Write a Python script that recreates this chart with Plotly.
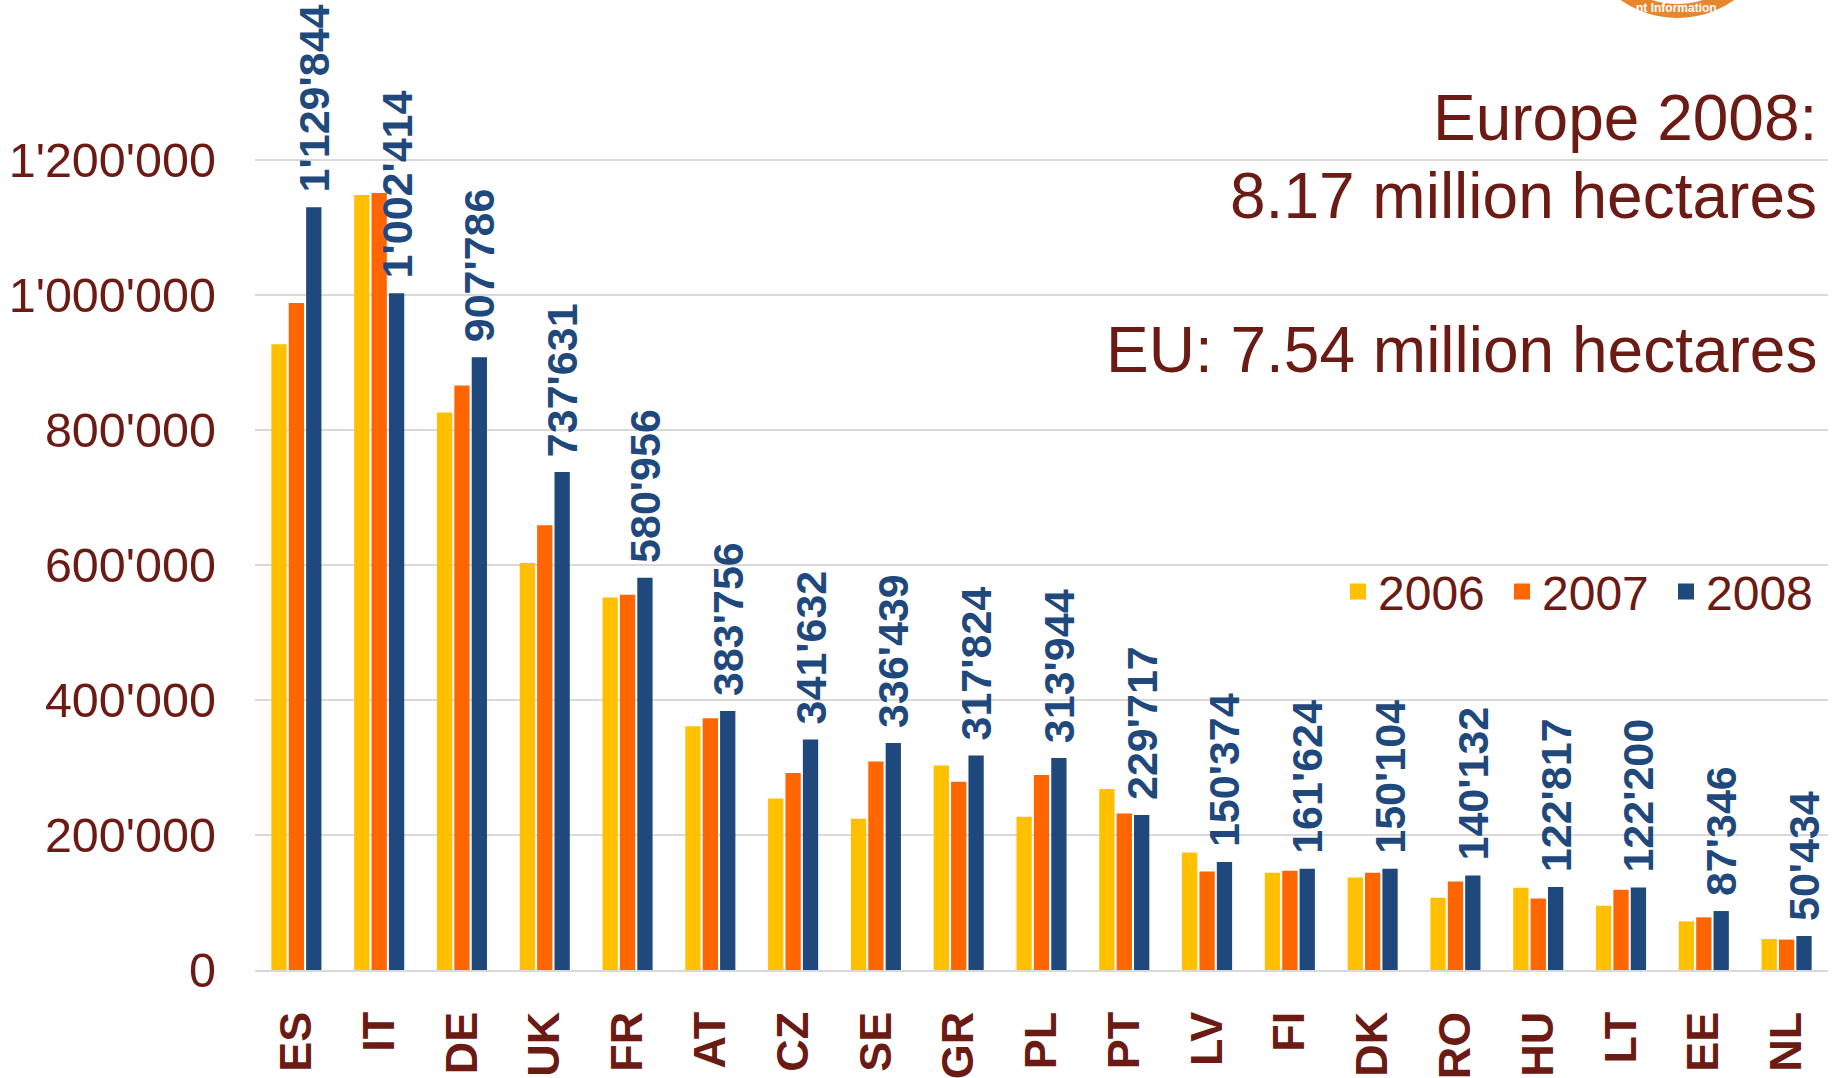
import plotly.graph_objects as go

countries = ["ES", "IT", "DE", "UK", "FR", "AT", "CZ", "SE", "GR", "PL",
             "PT", "LV", "FI", "DK", "RO", "HU", "LT", "EE", "NL"]
values_2006 = [927000, 1148000, 826000, 603000, 552000, 361000, 254000, 224000, 303000, 227000,
               268000, 174000, 144000, 137000, 107000, 122000, 95000, 72000, 46000]
values_2007 = [988000, 1151000, 866000, 659000, 556000, 373000, 292000, 309000, 279000, 289000,
               232000, 146000, 147000, 144000, 131000, 106000, 119000, 78000, 45000]
values_2008 = [1129844, 1002414, 907786, 737631, 580956, 383756, 341632, 336439, 317824, 313944,
               229717, 160000, 150000, 150104, 140132, 122817, 122200, 87346, 50434]
labels_2008 = ["1'129'844", "1'002'414", "907'786", "737'631", "580'956", "383'756", "341'632",
               "336'439", "317'824", "313'944", "229'717", "150'374", "161'624", "150'104",
               "140'132", "122'817", "122'200", "87'346", "50'434"]
series_names = ["2006", "2007", "2008"]
y_tickvals = [0, 200000, 400000, 600000, 800000, 1000000, 1200000]
y_ticktext = ["0", "200'000", "400'000", "600'000", "800'000", "1'000'000", "1'200'000"]

MAROON = "#6B1A14"
YELLOW = "#FFC000"
ORANGE = "#FF6600"
BLUE = "#1F497D"
FONT = "Liberation Sans, Arial, sans-serif"

fig = go.Figure()
colors = [YELLOW, ORANGE, BLUE]
for name, vals, col in zip(series_names, [values_2006, values_2007, values_2008], colors):
    kw = {}
    if name == "2008":
        kw = dict(text=["\u00a0" + t for t in labels_2008], textposition="outside",
                  textangle=-90, constraintext="none", cliponaxis=False,
                  textfont=dict(family=FONT, size=43, color=BLUE, weight="bold"))
    fig.add_trace(go.Bar(x=countries, y=vals, name=name, marker=dict(color=col, line=dict(width=0)),
                         showlegend=False, **kw))
    fig.add_trace(go.Scatter(x=[None], y=[None], mode="markers", name=name,
                             marker=dict(symbol="square", size=24, color=col), showlegend=True))

fig.update_layout(
    width=1844, height=1078,
    margin=dict(l=255, r=16, t=0, b=108),
    paper_bgcolor="white", plot_bgcolor="white",
    barmode="group", bargap=0.37, bargroupgap=0.12,
    font=dict(family=FONT, color=MAROON),
    legend=dict(orientation="h", x=0.6885, xanchor="left", y=0.39, yanchor="middle",
                font=dict(family=FONT, size=48, color=MAROON), bgcolor="rgba(0,0,0,0)",
                itemsizing="trace", entrywidth=119, entrywidthmode="pixels"),
    xaxis=dict(type="category", tickangle=-90, showgrid=False, showline=True,
               linecolor="#D9D9D9", linewidth=1.5, ticks="", automargin=False,
               tickfont=dict(family=FONT, size=45, color=MAROON, weight="bold"),
               ticklabelstandoff=22),
    yaxis=dict(range=[0, 1437000], tickvals=y_tickvals, ticktext=y_ticktext,
               showgrid=True, gridcolor="#D9D9D9", gridwidth=1.5, zeroline=False,
               showline=False, ticks="", automargin=False,
               tickfont=dict(family=FONT, size=48.5, color=MAROON),
               ticklabelstandoff=38),
)

fig.add_annotation(text="Europe 2008:", xref="paper", yref="paper", x=0.994, y=0.878,
                   xanchor="right", yanchor="middle", showarrow=False,
                   font=dict(family=FONT, size=64, color=MAROON))
fig.add_annotation(text="8.17 million hectares", xref="paper", yref="paper", x=0.994, y=0.798,
                   xanchor="right", yanchor="middle", showarrow=False,
                   font=dict(family=FONT, size=64, color=MAROON))
fig.add_annotation(text="EU: 7.54 million hectares", xref="paper", yref="paper", x=0.994, y=0.639,
                   xanchor="right", yanchor="middle", showarrow=False,
                   font=dict(family=FONT, size=64, color=MAROON))

# partial logo at top right
fig.add_shape(type="circle", xref="paper", yref="paper", x0=0.8455, x1=0.963, y0=0.9887, y1=1.18,
              line=dict(color="#E8862E", width=14), fillcolor="white", layer="above")
fig.add_annotation(text="nt Information", xref="paper", yref="paper", x=0.904, y=0.9918,
                   xanchor="center", yanchor="middle", showarrow=False,
                   font=dict(family=FONT, size=12, color="white", weight="bold"))

fig.write_html("out.html", config={"displayModeBar": False},
               post_script="document.body.style.margin='0';")
